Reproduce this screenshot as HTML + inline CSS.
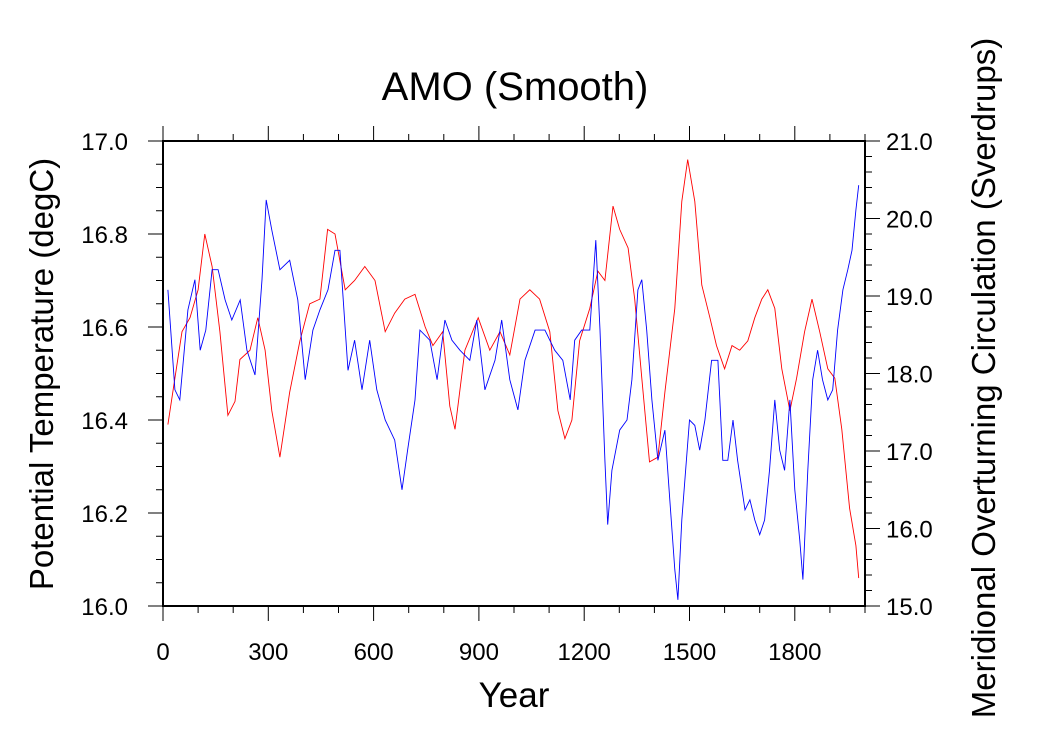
<!DOCTYPE html>
<html><head><meta charset="utf-8"><style>body{margin:0;background:#fff}svg{display:block;font-family:"Liberation Sans",sans-serif}</style></head>
<body>
<svg id="chart" width="1038" height="754"></svg>
<script>
const redYears=[14,34,54,77,100,119,140,162,185,205,219,248,270,291,310,333,361,390,418,447,469,490,519,546,575,604,633,660,689,718,747,769,797,817,832,860,898,931,960,988,1017,1045,1073,1102,1125,1145,1165,1187,1216,1239,1259,1282,1301,1325,1344,1364,1386,1410,1430,1458,1478,1495,1515,1535,1558,1577,1600,1621,1643,1666,1686,1706,1723,1743,1763,1786,1805,1828,1849,1871,1894,1914,1934,1956,1974,1982];
const redTemp=[16.39,16.49,16.59,16.62,16.68,16.80,16.73,16.59,16.41,16.44,16.53,16.55,16.62,16.55,16.42,16.32,16.46,16.57,16.65,16.66,16.81,16.80,16.68,16.70,16.73,16.70,16.59,16.63,16.66,16.67,16.60,16.56,16.59,16.43,16.38,16.55,16.62,16.55,16.59,16.54,16.66,16.68,16.66,16.59,16.42,16.36,16.40,16.57,16.64,16.72,16.70,16.86,16.81,16.77,16.66,16.49,16.31,16.32,16.46,16.64,16.87,16.96,16.87,16.69,16.62,16.56,16.51,16.56,16.55,16.57,16.62,16.66,16.68,16.64,16.51,16.42,16.49,16.59,16.66,16.59,16.51,16.49,16.38,16.21,16.13,16.06];
const blueYears=[14,34,48,71,91,106,122,140,157,177,196,220,239,262,282,294,310,333,361,384,405,427,447,470,490,504,527,546,567,589,609,633,660,681,697,718,732,760,781,803,823,846,874,894,917,946,965,988,1011,1031,1060,1088,1116,1139,1160,1173,1193,1216,1233,1245,1259,1267,1279,1301,1322,1336,1353,1364,1378,1393,1410,1430,1444,1458,1467,1478,1500,1515,1529,1544,1563,1581,1595,1609,1624,1637,1658,1672,1686,1700,1714,1728,1743,1757,1771,1786,1800,1814,1823,1837,1851,1865,1879,1894,1908,1922,1937,1951,1963,1974,1982];
const blueSv=[19.08,17.79,17.66,18.82,19.21,18.30,18.56,19.34,19.34,18.95,18.69,18.95,18.30,17.98,19.21,20.24,19.85,19.34,19.46,18.95,17.92,18.56,18.82,19.08,19.59,19.59,18.04,18.43,17.79,18.43,17.79,17.40,17.14,16.50,17.01,17.66,18.56,18.43,17.92,18.69,18.43,18.30,18.17,18.69,17.79,18.17,18.69,17.92,17.53,18.17,18.56,18.56,18.30,18.17,17.66,18.43,18.56,18.56,19.72,18.56,16.88,16.05,16.75,17.27,17.40,17.92,19.08,19.21,18.56,17.66,16.88,17.27,16.37,15.47,15.08,16.11,17.40,17.33,17.01,17.40,18.17,18.17,16.88,16.88,17.40,16.88,16.24,16.37,16.11,15.92,16.11,16.75,17.66,17.01,16.75,17.66,16.50,15.86,15.34,16.75,17.92,18.30,17.92,17.66,17.79,18.56,19.08,19.34,19.59,20.11,20.43];
const xTicks=[0,300,600,900,1200,1500,1800];
const leftTicks=[16.0,16.2,16.4,16.6,16.8,17.0];
const rightTicks=[15,16,17,18,19,20,21];

const L=163,R=865,T=141,B=606,XMAX=2000;
const sx=v=>L+v/XMAX*(R-L);
const syL=v=>B-(v-16)/1*(B-T);
const syR=v=>B-(v-15)/6*(B-T);
const svg=document.getElementById('chart');
const NS='http://www.w3.org/2000/svg';
function mk(tag,attrs){const e=document.createElementNS(NS,tag);for(const k in attrs)e.setAttribute(k,attrs[k]);svg.appendChild(e);return e;}
function line(x1,y1,x2,y2){return mk('line',{x1,y1,x2,y2,stroke:'#000','stroke-width':1});}
function text(x,y,s,size,anchor,rot){const t=mk('text',{x,y,'font-size':size,'text-anchor':anchor||'middle',fill:'#000'});if(rot)t.setAttribute('transform',`rotate(${rot} ${x} ${y})`);t.textContent=s;return t;}

function path(xs,ys,fy,col,name){let d='';xs.forEach((x,i)=>{d+=(i?'L':'M')+sx(x).toFixed(1)+','+fy(ys[i]).toFixed(1);});
const p=mk('path',{d,fill:'none',stroke:col,'stroke-width':0.9});

}
path(redYears,redTemp,syL,'#ff0000','temperature-line');
path(blueYears,blueSv,syR,'#0000ff','amoc-line');

const frame=mk('rect',{x:L,y:T,width:R-L,height:B-T,fill:'none',stroke:'#000','stroke-width':2});



for(let v=0;v<=XMAX;v+=100){const maj=v%300===0,len=maj?15:7;line(sx(v),B,sx(v),B+len);line(sx(v),T,sx(v),T-len);}
xTicks.forEach(v=>{const t=text(sx(v),B+54,String(v),24);});
for(let i=0;i<=20;i++){const v=16+i*0.05,maj=i%4===0,len=maj?15:7;line(L,syL(v),L-len,syL(v));}
leftTicks.forEach(v=>{const t=text(128,syL(v)+9,v.toFixed(1),24,'end');});
for(let i=0;i<=30;i++){const v=15+i*0.2,maj=i%5===0,len=maj?15:7;line(R,syR(v),R+len,syR(v));}
rightTicks.forEach(v=>{const t=text(886,syR(v)+9,v.toFixed(1),24,'start');});

let t;
t=text(515,100,'AMO (Smooth)',40);
t=text(514,707,'Year',35);
t=text(53,374,'Potential Temperature (degC)',33,'middle',-90);
t=text(995,378,'Meridional Overturning Circulation (Sverdrups)',33,'middle',-90);
</script>
</body></html>
